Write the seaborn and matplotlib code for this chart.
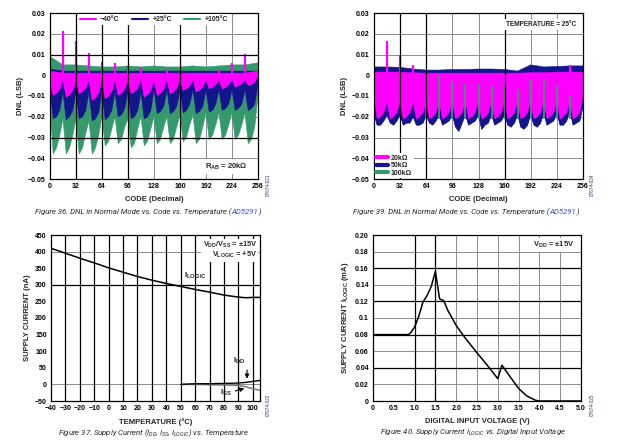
import numpy as np
import matplotlib
matplotlib.use("Agg")
import matplotlib.pyplot as plt
import seaborn as sns
from matplotlib.lines import Line2D

# ---------------- data ----------------
# DNL charts: envelopes sampled every 4 codes (lower) / every 16 codes (upper)
codes_fine = list(range(0, 257, 4))
codes_coarse = list(range(0, 257, 16))
code_ticks = [0, 32, 64, 96, 128, 160, 192, 224, 256]
dnl_ticks = [0.03, 0.02, 0.01, 0, -0.01, -0.02, -0.03, -0.04, -0.05]
dnl_tick_labels = ["0.03", "0.02", "0.01", "0", "\u22120.01", "\u22120.02", "\u22120.03", "\u22120.04", "\u22120.05"]

# Figure 36 (temperature)
f36_labels = ["\u221240\u00b0C", "+25\u00b0C", "+105\u00b0C"]
f36_green_up = [0.009, 0.005, 0.005, 0.0045, 0.004, 0.004, 0.0045, 0.004, 0.0045,
                0.004, 0.004, 0.0045, 0.004, 0.0045, 0.005, 0.005, 0.006]
f36_green_low = [-0.015, -0.038, -0.035, -0.029, -0.021, -0.038, -0.035, -0.029,
                 -0.021, -0.038, -0.035, -0.028, -0.022, -0.038, -0.035, -0.029,
                 -0.020, -0.034, -0.032, -0.026, -0.020, -0.033, -0.031, -0.025,
                 -0.021, -0.035, -0.033, -0.026, -0.020, -0.034, -0.032, -0.026,
                 -0.020, -0.033, -0.031, -0.025, -0.020, -0.033, -0.031, -0.025,
                 -0.019, -0.032, -0.030, -0.024, -0.019, -0.033, -0.031, -0.025,
                 -0.018, -0.031, -0.029, -0.024, -0.018, -0.031, -0.029, -0.024,
                 -0.018, -0.031, -0.029, -0.024, -0.018, -0.033, -0.031, -0.025,
                 -0.010]
f36_navy_up = [0.003, 0.002, 0.002, 0.002, 0.002, 0.002, 0.002, 0.002, 0.002,
               0.002, 0.002, 0.002, 0.002, 0.002, 0.002, 0.002, 0.002]
f36_navy_low = [-0.006, -0.021, -0.020, -0.017, -0.008, -0.0215, -0.020, -0.017,
                -0.008, -0.021, -0.020, -0.017, -0.008, -0.022, -0.021, -0.018,
                -0.008, -0.0215, -0.020, -0.017, -0.008, -0.020, -0.019, -0.016,
                -0.008, -0.021, -0.020, -0.017, -0.008, -0.021, -0.020, -0.017,
                -0.007, -0.0185, -0.0175, -0.015, -0.007, -0.0185, -0.0175, -0.015,
                -0.007, -0.018, -0.017, -0.014, -0.007, -0.0185, -0.0175, -0.015,
                -0.007, -0.0177, -0.017, -0.014, -0.007, -0.017, -0.016, -0.014,
                -0.007, -0.017, -0.016, -0.014, -0.007, -0.017, -0.016, -0.014,
                -0.004]
f36_mag_up = [0.002, 0.001, 0.001, 0.001, 0.001, 0.001, 0.001, 0.001, 0.001,
              0.001, 0.001, 0.001, 0.001, 0.001, 0.001, 0.001, 0.002]
f36_mag_low = [-0.003, -0.0096, -0.0086, -0.0067, -0.002, -0.0104, -0.0094, -0.0073,
               -0.002, -0.0088, -0.0079, -0.0062, -0.002, -0.0120, -0.0108, -0.0084,
               -0.002, -0.0112, -0.0101, -0.0078, -0.002, -0.0096, -0.0086, -0.0067,
               -0.002, -0.0088, -0.0079, -0.0062, -0.002, -0.0104, -0.0094, -0.0073,
               -0.002, -0.0096, -0.0086, -0.0067, -0.002, -0.0088, -0.0079, -0.0062,
               -0.002, -0.0072, -0.0065, -0.0050, -0.002, -0.0080, -0.0072, -0.0056,
               -0.002, -0.0064, -0.0058, -0.0045, -0.002, -0.0064, -0.0058, -0.0045,
               -0.002, -0.0056, -0.0050, -0.0039, -0.002, -0.0048, -0.0043, -0.0034,
               0.0]
f36_spike_codes = [16, 32, 48, 64, 80, 96, 112, 144, 208, 224, 240]
f36_spike_vals = [0.0213, 0.0165, 0.0107, 0.0063, 0.006, 0.0043, 0.004, 0.003, 0.003, 0.0058, 0.0101]

# Figure 39 (resistance)
f39_labels = ["20k\u03a9", "50k\u03a9", "100k\u03a9"]
f39_navy_up = [0.004, 0.004, 0.0038, 0.003, 0.0025, 0.0025, 0.0028, 0.0028, 0.003,
               0.003, 0.0028, 0.002, 0.005, 0.004, 0.0042, 0.0045, 0.0045]
f39_navy_low = [-0.019, -0.024, -0.024, -0.022, -0.019, -0.023, -0.024, -0.022,
                -0.019, -0.024, -0.023, -0.023, -0.020, -0.024, -0.024, -0.023,
                -0.019, -0.023, -0.024, -0.022, -0.019, -0.024, -0.023, -0.022,
                -0.019, -0.025, -0.027, -0.023, -0.019, -0.024, -0.023, -0.022,
                -0.019, -0.026, -0.024, -0.023, -0.019, -0.024, -0.023, -0.022,
                -0.019, -0.024, -0.025, -0.023, -0.019, -0.025, -0.026, -0.024,
                -0.019, -0.024, -0.025, -0.023, -0.018, -0.024, -0.023, -0.022,
                -0.018, -0.024, -0.024, -0.022, -0.017, -0.024, -0.023, -0.022,
                -0.015]
f39_mag_up = [0.0015, 0.0015, 0.0015, 0.0012, 0.001, 0.001, 0.001, 0.001, 0.001,
              0.001, 0.001, 0.001, 0.0012, 0.0012, 0.0015, 0.0015, 0.0015]
f39_mag_low = [-0.010, -0.021, -0.020, -0.018, -0.013, -0.021, -0.020, -0.018,
               -0.013, -0.021, -0.020, -0.018, -0.013, -0.021, -0.020, -0.018,
               -0.013, -0.021, -0.020, -0.018, -0.013, -0.021, -0.020, -0.018,
               -0.013, -0.021, -0.020, -0.018, -0.013, -0.021, -0.020, -0.018,
               -0.013, -0.021, -0.020, -0.018, -0.013, -0.021, -0.020, -0.018,
               -0.013, -0.021, -0.020, -0.018, -0.013, -0.021, -0.020, -0.018,
               -0.013, -0.021, -0.020, -0.018, -0.013, -0.021, -0.020, -0.018,
               -0.013, -0.021, -0.020, -0.018, -0.013, -0.021, -0.020, -0.018,
               -0.010]
f39_mag_spike_codes = [16, 32, 48, 240]
f39_mag_spike_vals = [0.0163, 0.0100, 0.0048, 0.0048]
f39_green_spike_codes = [64, 80, 96, 112, 128, 144, 160, 176, 192, 208, 224, 240]
f39_green_spike_tops = [-0.012, -0.0005, -0.003, -0.004, -0.004, -0.0048, -0.005,
                        -0.007, -0.002, -0.002, -0.005, -0.0096]
f39_green_spike_bottom = -0.021

# Figure 37 (supply current vs temperature)
temp_c = [-40, -30, -20, -10, 0, 10, 20, 30, 40, 50, 60, 70, 80, 90, 95, 100, 105]
i_logic_na = [410, 395, 380, 366, 351, 338, 325, 314, 304, 295, 286, 278, 269, 263, 261, 262, 262]
temp_dd = [50, 60, 70, 80, 90, 95, 100, 105]
i_dd_na = [0, 2, 2, 3, 4, 6, 9, 12]
i_ss_na = [0, 0, -1, -2, -3, -7, -13, -18]
temp_ticks = [-40, -30, -20, -10, 0, 10, 20, 30, 40, 50, 60, 70, 80, 90, 100]
temp_tick_labels = ["\u221240", "\u221230", "\u221220", "\u221210", "0", "10", "20", "30",
                    "40", "50", "60", "70", "80", "90", "100"]
cur_ticks = [450, 400, 350, 300, 250, 200, 150, 100, 50, 0, -50]
cur_tick_labels = ["450", "400", "350", "300", "250", "200", "150", "100", "50", "0", "\u221250"]

# Figure 40 (I_LOGIC vs digital input voltage)
vin = [0, 0.5, 0.85, 0.9, 1.0, 1.1, 1.2, 1.3, 1.4, 1.5, 1.55, 1.6, 1.7, 1.8, 2.0, 2.2,
       2.5, 2.7, 3.0, 3.1, 3.2, 3.5, 3.7, 3.9, 4.0, 4.5, 5.0]
i_logic_ma = [0.08, 0.08, 0.08, 0.082, 0.089, 0.102, 0.119, 0.127, 0.138, 0.156, 0.14,
              0.123, 0.121, 0.109, 0.091, 0.077, 0.058, 0.046, 0.027, 0.043, 0.036,
              0.015, 0.006, 0.001, 0.0, 0.0, 0.0]
v_ticks = [0, 0.5, 1.0, 1.5, 2.0, 2.5, 3.0, 3.5, 4.0, 4.5, 5.0]
v_tick_labels = ["0", "0.5", "1.0", "1.5", "2.0", "2.5", "3.0", "3.5", "4.0", "4.5", "5.0"]
ma_ticks = [0.20, 0.18, 0.16, 0.14, 0.12, 0.10, 0.08, 0.06, 0.04, 0.02, 0]
ma_tick_labels = ["0.20", "0.18", "0.16", "0.14", "0.12", "0.1", "0.08", "0.06", "0.04", "0.02", "0"]

# ---------------- style ----------------
sns.set_theme(style="white")
plt.rcParams['font.family'] = ['Liberation Sans', 'DejaVu Sans']
plt.rcParams['mathtext.fontset'] = 'custom'
plt.rcParams['mathtext.bf'] = 'Liberation Sans:bold'
plt.rcParams['mathtext.rm'] = 'Liberation Sans'
plt.rcParams['mathtext.it'] = 'Roboto:italic'

MAG = "#ff00ff"
NAVY = "#14148c"
GREEN = "#349a6c"
GRID_LIGHT = "#8c8c8c"
TICK_FS = 5
LABEL_FS = 5.5
CAP_FS = 5.6
OHM = "\u03a9"
PM = "\u00b1"

fig = plt.figure(figsize=(6.2, 4.47), dpi=100)
W, H = 620.0, 447.0


def rect(l, t, r, b):
    return [l / W, 1 - b / H, (r - l) / W, (b - t) / H]


def style_axes(ax, xt, xtl, yt, ytl, xlim, ylim, dark_x, dark_y, light_x, light_y):
    ax.set_xlim(xlim)
    ax.set_ylim(ylim)
    ax.set_xticks(xt)
    ax.set_xticklabels(xtl, fontweight='bold')
    ax.set_yticks(yt)
    ax.set_yticklabels(ytl, fontweight='bold')
    ax.tick_params(length=0, labelsize=TICK_FS, pad=3, colors='black')
    ax.grid(False)
    for s in ax.spines.values():
        s.set_visible(True)
        s.set_color('black')
        s.set_linewidth(0.9)
        s.set_zorder(10)
    for x in light_x:
        ax.axvline(x, color=GRID_LIGHT, lw=0.7, zorder=0.5)
    for y in light_y:
        ax.axhline(y, color=GRID_LIGHT, lw=0.7, zorder=0.5)
    for x in dark_x:
        ax.axvline(x, color='black', lw=0.9, zorder=6)
    for y in dark_y:
        ax.axhline(y, color='black', lw=0.9, zorder=6)


def band(ax, up, low, color, z):
    xs = np.concatenate([np.array(codes_coarse), np.array(codes_fine)[::-1]])
    ys = np.concatenate([np.array(up), np.array(low)[::-1]])
    ax.fill(xs, ys, color=color, lw=0.4, ec=color, zorder=z)


# ---------- Figure 36 ----------
ax1 = fig.add_axes(rect(50, 13, 258, 179))
band(ax1, f36_green_up, f36_green_low, GREEN, 1)
band(ax1, f36_navy_up, f36_navy_low, NAVY, 2)
band(ax1, f36_mag_up, f36_mag_low, MAG, 3)
sns.lineplot(x=codes_fine, y=f36_mag_low, ax=ax1, color=MAG, lw=0.4, zorder=3)
ax1.vlines(f36_spike_codes, 0, f36_spike_vals, color=MAG, lw=1.6, zorder=4)
style_axes(ax1, code_ticks, [str(c) for c in code_ticks], dnl_ticks, dnl_tick_labels,
           (0, 256), (-0.05, 0.03), [32, 64, 96, 160], [0.01, -0.03],
           [128, 192, 224], [0.02, 0, -0.01, -0.02, -0.04])
ax1.set_xlabel("CODE (Decimal)", fontsize=LABEL_FS, fontweight='bold', labelpad=4)
ax1.set_ylabel("DNL (LSB)", fontsize=LABEL_FS, fontweight='bold', labelpad=3)
h36 = [Line2D([], [], color=c, lw=1.5) for c in (MAG, NAVY, GREEN)]
leg = ax1.legend(h36, f36_labels, loc='upper center', ncol=3, frameon=True,
                 prop={'weight': 'bold', 'size': TICK_FS}, handlelength=2.3,
                 columnspacing=1.8, handletextpad=0.6, borderaxespad=0.15,
                 borderpad=0.3, fancybox=False, framealpha=1)
leg.get_frame().set_edgecolor('none')
leg.set_zorder(20)
ax1.text(0.95, 0.045, r"$\mathbf{R_{AB}}$" + " = 20k" + OHM, transform=ax1.transAxes,
         ha='right', va='bottom', fontsize=TICK_FS + 0.5, fontweight='bold',
         bbox=dict(fc='white', ec='none', pad=1.5), zorder=20)

# ---------- Figure 39 ----------
ax2 = fig.add_axes(rect(374, 13, 583, 179))
band(ax2, f39_navy_up, f39_navy_low, NAVY, 1)
band(ax2, f39_mag_up, f39_mag_low, MAG, 2)
sns.lineplot(x=codes_fine, y=f39_navy_low, ax=ax2, color=NAVY, lw=0.5, zorder=1)
ax2.vlines(f39_mag_spike_codes, 0, f39_mag_spike_vals, color=MAG, lw=1.6, zorder=4)
ax2.vlines(f39_green_spike_codes, f39_green_spike_bottom, f39_green_spike_tops,
           color=GREEN, lw=1.3, zorder=4)
style_axes(ax2, code_ticks, [str(c) for c in code_ticks], dnl_ticks, dnl_tick_labels,
           (0, 256), (-0.05, 0.03), [32, 64, 160], [],
           [96, 128, 192, 224], [0.02, 0.01, 0, -0.01, -0.02, -0.03, -0.04])
ax2.set_xlabel("CODE (Decimal)", fontsize=LABEL_FS, fontweight='bold', labelpad=4)
ax2.set_ylabel("DNL (LSB)", fontsize=LABEL_FS, fontweight='bold', labelpad=3)
h39 = [Line2D([], [], color=c, lw=3) for c in (MAG, NAVY, GREEN)]
leg2 = ax2.legend(h39, f39_labels, loc='lower left', ncol=1, frameon=True,
                  prop={'weight': 'bold', 'size': TICK_FS}, handlelength=1.6,
                  handletextpad=0.5, labelspacing=0.05, borderaxespad=0.15,
                  borderpad=0.2, fancybox=False, framealpha=1)
leg2.get_frame().set_edgecolor('none')
leg2.set_zorder(20)
ax2.text(0.97, 0.93, "TEMPERATURE = 25\u00b0C", transform=ax2.transAxes,
         ha='right', va='center', fontsize=TICK_FS - 0.3, fontweight='bold',
         bbox=dict(fc='white', ec='none', pad=1.5), zorder=20)

# ---------- Figure 37 ----------
ax3 = fig.add_axes(rect(51, 235, 260, 401))
style_axes(ax3, temp_ticks, temp_tick_labels, cur_ticks, cur_tick_labels,
           (-40, 105), (-50, 450), temp_ticks[1:], [300],
           [], [400, 0])
sns.lineplot(x=temp_c, y=i_logic_na, ax=ax3, color='black', lw=1.1, zorder=7)
sns.lineplot(x=temp_dd, y=i_ss_na, ax=ax3, color='#7a7a7a', lw=1.1, zorder=7)
sns.lineplot(x=temp_dd, y=i_dd_na, ax=ax3, color='black', lw=1.0, zorder=7)
ax3.set_xlabel("TEMPERATURE (\u00b0C)", fontsize=LABEL_FS, fontweight='bold', labelpad=4)
ax3.set_ylabel("SUPPLY CURRENT (nA)", fontsize=LABEL_FS, fontweight='bold', labelpad=3)
ax3.text(52, 328, r"$\mathbf{I_{LOGIC}}$", fontsize=TICK_FS + 1, ha='left', va='center', zorder=8)
ax3.text(86, 72, r"$\mathbf{I_{DD}}$", fontsize=TICK_FS + 1, ha='left', va='center', zorder=8)
ax3.text(77, -25, r"$\mathbf{I_{SS}}$", fontsize=TICK_FS + 1, ha='left', va='center', zorder=8)
ax3.annotate('', xy=(96, 9), xytext=(96, 52),
             arrowprops=dict(arrowstyle='-|>', color='black', lw=0.8, mutation_scale=6), zorder=8)
ax3.annotate('', xy=(96, -10), xytext=(86, -22),
             arrowprops=dict(arrowstyle='-|>', color='black', lw=0.8, mutation_scale=6), zorder=8)
ax3.text(0.985, 0.97, r"$\mathbf{V_{DD}/V_{SS}}$" + " = " + PM + "15V\n" + r"$\mathbf{V_{LOGIC}}$" + " = +5V",
         transform=ax3.transAxes, ha='right', va='top', fontsize=TICK_FS + 0.3,
         fontweight='bold', linespacing=1.0,
         bbox=dict(fc='white', ec='none', pad=1.0), zorder=20)

# ---------- Figure 40 ----------
ax4 = fig.add_axes(rect(373, 235, 581, 401))
style_axes(ax4, v_ticks, v_tick_labels, ma_ticks, ma_tick_labels,
           (0, 5), (0, 0.20), [1.0, 1.5], [0.16, 0.12, 0.08, 0.04],
           [2.0, 2.5, 3.0, 3.5, 4.0, 4.5], [0.18, 0.14, 0.10, 0.06, 0.02])
sns.lineplot(x=vin, y=i_logic_ma, ax=ax4, color='black', lw=1.1, zorder=7)
ax4.set_xlabel("DIGITAL INPUT VOLTAGE (V)", fontsize=LABEL_FS, fontweight='bold', labelpad=4)
ax4.set_ylabel(r"SUPPLY CURRENT $\mathbf{I_{LOGIC}}$ (mA)", fontsize=LABEL_FS,
               fontweight='bold', labelpad=3)
ax4.text(0.97, 0.94, r"$\mathbf{V_{DD}}$" + " = " + PM + "15V", transform=ax4.transAxes,
         ha='right', va='center', fontsize=TICK_FS + 0.5, fontweight='bold',
         bbox=dict(fc='white', ec='none', pad=1.2), zorder=20)

# ---------- captions ----------
renderer = fig.canvas.get_renderer()
CAP_COLOR = "#2a2a2a"
LINK = "#3a4fd8"


def caption(parts, cx, cy):
    texts = []
    for s, col in parts:
        t = fig.text(0, 1 - cy / H, s, fontsize=CAP_FS, color=col, family=['Roboto', 'DejaVu Sans'],
                     style='italic', ha='left', va='center')
        texts.append(t)
    widths = [t.get_window_extent(renderer).width for t in texts]
    total = sum(widths)
    x0 = cx - total / 2
    for t, w in zip(texts, widths):
        t.set_x(x0 / W)
        x0 += w


caption([("Figure 36. DNL in Normal Mode vs. Code vs. Temperature (", CAP_COLOR),
         ("AD5291", LINK), (")", CAP_COLOR)], 148, 212)
caption([("Figure 39. DNL in Normal Mode vs. Code vs. Temperature (", CAP_COLOR),
         ("AD5291", LINK), (")", CAP_COLOR)], 466, 212)
caption([(r"Figure 37. Supply Current ($\mathit{I_{DD}}$, $\mathit{I_{SS}}$, $\mathit{I_{LOGIC}}$) vs. Temperature",
          CAP_COLOR)], 153, 433)
caption([(r"Figure 40. Supply Current $\mathit{I_{LOGIC}}$ vs. Digital Input Voltage", CAP_COLOR)], 473, 433)

# figure ids (rotated)
for fx, fy, s in [(268, 185, "07674-021"), (592, 185, "07674-024"),
                  (268, 405, "07674-022"), (592, 405, "07674-025")]:
    fig.text(fx / W, 1 - fy / H, s, rotation=90, fontsize=3.4, color='#2a3a6a',
             ha='center', va='center')

fig.savefig("out.png", dpi=100)
